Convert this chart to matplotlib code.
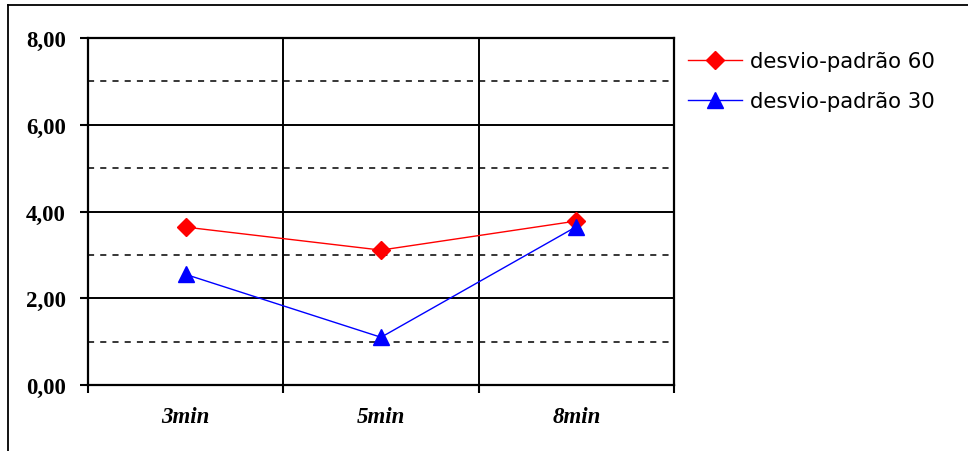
import numpy as np
import matplotlib.pyplot as plt
from matplotlib.lines import Line2D
from matplotlib.ticker import FixedLocator

# Data
categories = ['3min', '5min', '8min']
desvio_60 = [3.64, 3.11, 3.78]
desvio_30 = [2.55, 1.10, 3.65]
series_labels = ['desvio-padrão 60', 'desvio-padrão 30']
y_ticks = [0, 2, 4, 6, 8]
y_tick_labels = ['0,00', '2,00', '4,00', '6,00', '8,00']

fig = plt.figure(figsize=(9.68, 4.52), dpi=100)
ax = fig.add_axes([88/968, 1 - 386/452, (674 - 88)/968, (386 - 39)/452])

x = np.arange(len(categories))

# Lines
ax.plot(x, desvio_60, color='#ff0000', lw=1.0, marker='D', markersize=9,
        label=series_labels[0], zorder=4)
ax.plot(x, desvio_30, color='#0000ff', lw=1.0, marker='^', markersize=11,
        label=series_labels[1], zorder=4)

ax.set_xlim(-0.5, len(categories) - 0.5)
ax.set_ylim(0, 8)

# Y axis: solid major grid, dashed minor grid
ax.set_yticks(y_ticks)
ax.set_yticklabels(y_tick_labels, fontfamily='Liberation Serif', fontweight='bold', fontsize=16.5)
ax.yaxis.set_minor_locator(FixedLocator([1, 3, 5, 7]))
ax.grid(axis='y', which='major', color='black', lw=1.4, ls='-')
ax.grid(axis='y', which='minor', color='black', lw=1.1, ls=(0, (4, 4)))
ax.tick_params(axis='y', which='major', length=6, width=1.5, pad=10, direction='out')
ax.tick_params(axis='y', which='minor', length=0)

# X axis: labels at category centres, ticks on the boundaries
ax.set_xticks(x)
ax.set_xticklabels(categories, fontfamily='Liberation Serif', fontweight='bold',
                   fontstyle='italic', fontsize=16.5)
ax.xaxis.set_minor_locator(FixedLocator(np.arange(-0.5, len(categories), 1.0)))
ax.grid(axis='x', which='minor', color='black', lw=1.4, ls='-')
ax.tick_params(axis='x', which='major', length=0, pad=15)
ax.tick_params(axis='x', which='minor', length=6, width=1.5, direction='out')

for side in ['left', 'right', 'top', 'bottom']:
    ax.spines[side].set_linewidth(1.6)
    ax.spines[side].set_color('black')
ax.set_axisbelow(True)

# Legend outside on the right
ax.legend(loc='upper left', bbox_to_anchor=(688/968, 1 - 52/452),
          bbox_transform=fig.transFigure, frameon=False, fontsize=15.3,
          handlelength=2.55, handletextpad=0.35, labelspacing=0.95, borderpad=0,
          borderaxespad=0)

# Outer chart frame (top and left edges visible)
fig.add_artist(Line2D([8/968, 1], [1 - 6/452, 1 - 6/452], color='black', lw=1.3,
                      transform=fig.transFigure))
fig.add_artist(Line2D([8/968, 8/968], [0, 1 - 6/452], color='black', lw=1.3,
                      transform=fig.transFigure))

fig.savefig('out.png', dpi=100)
